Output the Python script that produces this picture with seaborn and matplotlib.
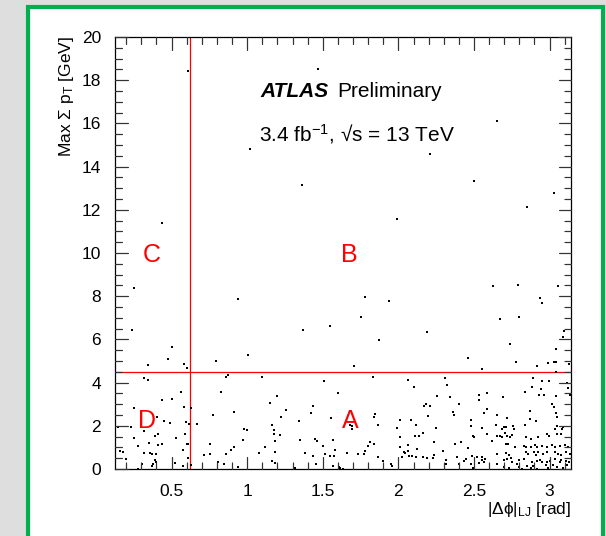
import matplotlib
matplotlib.use("Agg")
import numpy as np
import matplotlib.pyplot as plt
import seaborn as sns
from matplotlib.patches import Rectangle
from matplotlib.ticker import MultipleLocator, NullFormatter

# ---------------- data ----------------
dphi_upper = [0.606, 1.469, 2.653, 1.02, 2.209, 2.503, 1.363, 3.032, 2.851, 0.439, 1.988, 0.254, 2.629, 2.794,
              3.058, 0.94, 1.777, 1.94, 2.939, 2.95, 1.75, 2.675, 2.799, 0.24, 1.367, 1.548, 2.186, 1.874, 2.735,
              3.094, 3.089, 0.5, 3.043, 0.474, 0.341, 0.579, 0.599, 0.791, 1.004, 1.707, 2.46, 2.55, 2.779, 2.92,
              2.99, 3.032, 3.041, 3.13, 3.045]
sumpt_upper = [18.43, 18.53, 16.09, 14.81, 14.6, 13.32, 13.16, 12.78, 12.15, 11.41, 11.58, 8.37, 8.48, 8.54,
               8.45, 7.88, 7.94, 7.78, 7.91, 7.67, 7.06, 6.96, 7.04, 6.45, 6.43, 6.64, 6.33, 5.99, 5.77,
               6.39, 6.11, 5.64, 5.57, 5.07, 4.80, 4.88, 4.68, 4.99, 5.26, 4.76, 5.16, 4.65, 4.96, 4.79,
               4.92, 4.97, 4.95, 4.84, 4.50]

dphi_low1 = [0.319, 0.341, 0.559, 0.434, 0.504, 0.251, 0.579, 0.63, 0.406, 0.452, 0.489, 0.597, 0.612, 0.67,
             0.148, 0.23, 0.319, 0.41, 0.39, 0.251, 0.531, 0.59, 0.353, 0.439, 0.412, 0.6, 0.608, 0.28, 0.156,
             0.176, 0.319, 0.359, 0.372, 0.40, 0.577, 0.716, 0.2, 0.39, 0.399, 0.608, 0.379, 0.372, 0.63, 0.302,
             0.28, 0.52, 0.575]
sumpt_low1 = [4.22, 4.11, 3.57, 3.21, 3.26, 2.81, 2.87, 2.84, 2.42, 2.2, 2.12, 2.17, 2.09, 2.08,
              1.94, 1.95, 1.74, 1.61, 1.55, 1.43, 1.43, 1.6, 1.21, 1.16, 1.10, 1.15, 1.15, 1.07, 0.82,
              0.78, 0.74, 0.76, 0.70, 0.71, 0.87, 0.65, 0.47, 0.42, 0.34, 0.51, 0.23, 0.15, 0.2, 0.23,
              0.02, 0.3, 0.12]

dphi_low2 = [0.859, 0.874, 1.101, 0.824, 1.198, 1.152, 1.255, 0.773, 0.914, 1.222, 1.341, 1.167, 0.976, 1.0,
             1.174, 1.178, 1.218, 0.974, 1.182, 1.347, 0.753, 0.914, 1.119, 0.894, 1.081, 0.756, 0.861, 1.187,
             0.81, 0.845, 1.165, 1.187, 0.938, 1.317]
sumpt_low2 = [4.25, 4.33, 4.25, 3.57, 3.38, 3.06, 2.74, 2.48, 2.62, 2.42, 2.2, 2.02, 1.83, 1.8,
              1.8, 1.63, 1.57, 1.33, 1.3, 1.36, 1.16, 1.04, 1.01, 0.87, 0.76, 0.71, 0.68, 0.81,
              0.31, 0.22, 0.37, 0.28, 0.11, 0.05]

dphi_low3 = [1.509, 1.83, 1.603, 1.436, 1.42, 1.557, 1.845, 1.841, 1.68, 1.69, 1.69, 1.867, 1.99, 1.447,
             1.464, 1.565, 1.5, 1.81, 1.836, 1.801, 1.779, 1.581, 1.385, 1.517, 1.548, 1.577, 1.658, 1.733,
             1.77, 1.433, 1.863, 1.456, 1.896, 1.565, 1.605, 1.636, 1.614, 1.953, 1.955]
sumpt_low3 = [4.09, 4.27, 3.53, 2.93, 2.6, 2.34, 2.54, 2.42, 2.06, 2.0, 1.83, 2.02, 1.92, 1.41,
              1.29, 1.36, 1.05, 1.26, 1.18, 1.05, 0.84, 0.87, 0.73, 0.68, 0.62, 0.62, 0.76, 0.68,
              0.7, 0.62, 0.57, 0.25, 0.37, 0.14, 0.09, 0.01, 0.06, 0.23, 0.15]

dphi_low4 = [2.063, 2.305, 2.321, 2.103, 2.255, 2.341, 2.534, 2.589, 2.532, 2.167, 2.184, 2.206, 2.404, 2.358,
             2.369, 2.587, 2.563, 2.193, 2.008, 2.083, 2.483, 2.116, 2.25, 2.483, 2.556, 2.162, 2.112, 2.136,
             2.493, 2.497, 2.013, 2.233, 2.376, 2.413, 2.061, 2.46, 2.008, 2.121, 2.297, 2.034, 2.063, 2.041,
             2.237, 2.024, 2.068, 2.088, 2.114, 2.162, 2.191, 2.226, 2.389, 2.448, 2.49, 2.523, 2.556, 2.572,
             2.55, 2.318, 2.433, 2.316, 2.398, 2.48, 2.534, 2.567, 2.495]
sumpt_low4 = [4.14, 4.19, 3.88, 3.8, 3.4, 3.32, 3.43, 3.5, 3.2, 2.9, 2.99, 2.9, 2.99, 2.64,
              2.48, 2.8, 2.59, 2.47, 2.26, 2.26, 2.29, 2.03, 1.91, 1.97, 1.92, 1.67, 1.52, 1.52,
              1.53, 1.49, 1.46, 1.27, 1.15, 1.27, 1.1, 0.99, 1.02, 0.92, 0.82, 0.81, 0.84, 0.73,
              0.65, 0.57, 0.6, 0.59, 0.54, 0.56, 0.51, 0.5, 0.54, 0.47, 0.6, 0.57, 0.54, 0.45,
              0.42, 0.43, 0.39, 0.22, 0.22, 0.23, 0.28, 0.31, 0.03]

dphi_low5 = [2.893, 2.952, 2.999, 2.882, 2.946, 3.114, 3.124, 3.135, 2.693, 2.836, 2.933, 2.966, 3.043, 3.019,
             3.03, 3.041, 3.048, 2.649, 2.717, 2.869, 2.873, 2.909, 2.836, 2.645, 2.698, 2.711, 2.688, 2.761,
             2.766, 3.036, 3.052, 3.091, 3.085, 2.585, 2.986, 2.997, 3.048, 3.078, 2.649, 2.673, 2.688, 2.702,
             2.717, 2.737, 2.754, 2.622, 2.847, 2.876, 2.924, 2.832, 2.845, 2.878, 2.902, 2.92, 2.711, 2.726,
             2.772, 2.952, 2.983, 3.019, 3.036, 3.069, 3.102, 3.124, 2.651, 2.715, 2.73, 2.843, 2.86, 2.898,
             2.911, 2.924, 2.959, 2.982, 3.038, 3.056, 3.078, 3.109, 3.135, 2.7, 2.719, 2.748, 2.752, 2.8,
             2.832, 2.886, 2.92, 2.937, 2.952, 2.982, 3.003, 3.036, 3.069, 3.078, 3.107, 3.127, 2.655, 2.7,
             2.733, 2.783, 2.8, 2.816, 2.853, 2.876, 2.893, 2.92, 2.975, 2.992, 3.025, 3.052, 3.089, 3.118]
sumpt_low5 = [4.22, 4.09, 4.06, 3.78, 3.72, 3.98, 3.75, 3.44, 3.35, 3.55, 3.44, 3.44, 3.38, 3.02,
              2.85, 2.59, 2.42, 2.51, 2.36, 2.67, 2.33, 2.23, 2.03, 2.05, 1.94, 1.94, 1.85, 2.0,
              1.86, 1.85, 1.99, 1.95, 1.85, 1.61, 1.6, 1.53, 1.61, 1.64, 1.53, 1.55, 1.46, 1.66,
              1.52, 1.46, 1.58, 1.3, 1.46, 1.38, 1.46, 1.07, 1.02, 1.02, 1.12, 1.02, 1.15, 1.15,
              1.01, 1.07, 1.04, 1.1, 1.01, 1.07, 1.1, 1.01, 0.71, 0.73, 0.65, 0.8, 0.71, 0.78,
              0.65, 0.78, 0.71, 0.78, 0.78, 0.68, 0.65, 0.78, 0.68, 0.4, 0.45, 0.5, 0.34, 0.42,
              0.47, 0.34, 0.39, 0.42, 0.34, 0.34, 0.39, 0.47, 0.34, 0.42, 0.39, 0.31, 0.22, 0.08,
              0.03, 0.22, 0.09, 0.01, 0.12, 0.03, 0.12, 0.0, 0.2, 0.03, 0.2, 0.09, 0.03, 0.2]

dphi = dphi_upper + dphi_low1 + dphi_low2 + dphi_low3 + dphi_low4 + dphi_low5
sumpt = sumpt_upper + sumpt_low1 + sumpt_low2 + sumpt_low3 + sumpt_low4 + sumpt_low5

dphi_cut = 0.62
sumpt_cut = 4.5
region_labels = ["C", "B", "D", "A"]
region_x = [0.371, 1.676, 0.34, 1.684]
region_y = [9.9, 9.9, 2.2, 2.22]

xticks = [0.5, 1, 1.5, 2, 2.5, 3]
xticklabels = ["0.5", "1", "1.5", "2", "2.5", "3"]
yticks = [0, 2, 4, 6, 8, 10, 12, 14, 16, 18, 20]

# ---------------- style ----------------
sns.set_theme(style="white")
rc = plt.rcParams
rc["font.family"] = ["Liberation Sans", "DejaVu Sans"]
rc["text.color"] = "black"
rc["axes.labelcolor"] = "black"
rc["mathtext.fontset"] = "custom"
rc["mathtext.rm"] = "Liberation Sans"
rc["mathtext.it"] = "Liberation Sans:italic"
rc["mathtext.bf"] = "Liberation Sans:bold"
rc["mathtext.sf"] = "Liberation Sans"
rc["mathtext.fallback"] = "stixsans"

W, H = 606, 536
RECT = [115 / W, 1 - 469 / H, 456 / W, 432 / H]
XLIM = (0.1257, 3.1416)
YLIM = (0, 20)

fig = plt.figure(figsize=(W / 100, H / 100), dpi=100)
fig.patch.set_facecolor("#dedede")
frame = Rectangle((28 / W, -0.05), (603 - 28) / W, 1 - 7 / H + 0.05,
                  transform=fig.transFigure, facecolor="white", edgecolor="#00b04f",
                  linewidth=3.0, zorder=-10)
fig.add_artist(frame)

ax = fig.add_axes(RECT)
ax.set_zorder(5)

sns.scatterplot(x=dphi, y=sumpt, ax=ax, marker="s", s=3.5, color="black",
                linewidth=0, zorder=3)

ax.axvline(dphi_cut, color="red", lw=0.9, zorder=2)
ax.axhline(sumpt_cut, color="red", lw=0.9, zorder=2)

for lab, xx, yy in zip(region_labels, region_x, region_y):
    ax.text(xx, yy, lab, color="red", fontsize=18, ha="center", va="center")

ax.set_xlim(*XLIM)
ax.set_ylim(*YLIM)
ax.set_xticks(xticks)
ax.set_xticklabels(xticklabels)
ax.set_yticks(yticks)
ax.set_yticklabels([str(v) for v in yticks])
ax.tick_params(which="both", length=0, labelsize=12.5, labelcolor="black")
ax.tick_params(axis="x", pad=11)
ax.tick_params(axis="y", pad=10)
for sp in ax.spines.values():
    sp.set_color("black")
    sp.set_linewidth(0.9)
ax.set_xlabel("")
ax.set_ylabel("")

# transparent overlay axes carrying the ROOT-style tick marks (inward, mirrored)
tax = fig.add_axes(RECT, sharex=None)
tax.set_zorder(20)
tax.patch.set_alpha(0.0)
tax.set_facecolor("none")
tax.set_xlim(*XLIM)
tax.set_ylim(*YLIM)
tax.set_xticks(xticks)
tax.set_yticks(yticks)
tax.xaxis.set_minor_locator(MultipleLocator(0.1))
tax.yaxis.set_minor_locator(MultipleLocator(0.5))
tax.xaxis.set_major_formatter(NullFormatter())
tax.yaxis.set_major_formatter(NullFormatter())
tax.tick_params(which="both", direction="in", bottom=True, top=True, left=True, right=True,
                labelbottom=False, labelleft=False, color="#333333", width=0.8)
tax.tick_params(which="major", length=9)
tax.tick_params(which="minor", length=4.7)
for sp in tax.spines.values():
    sp.set_visible(False)

# extra safety: explicit tick segments on the main axes
tick_col = "#333333"
xmaj_len, xmin_len = 12.5 / 432, 6.5 / 432
ymaj_len, ymin_len = 12.5 / 456, 6.5 / 456
x_minor = [v for v in np.round(np.arange(0.2, 3.15, 0.1), 2) if not any(abs(v - m) < 1e-6 for m in xticks)]
y_minor = [v for v in np.arange(0.5, 20, 0.5) if v % 2 != 0]
xt = ax.get_xaxis_transform()
yt = ax.get_yaxis_transform()
for xs, ln in ((xticks, xmaj_len), (x_minor, xmin_len)):
    for v in xs:
        ax.plot([v, v], [0, ln], transform=xt, color=tick_col, lw=0.8, clip_on=False, zorder=6)
        ax.plot([v, v], [1 - ln, 1], transform=xt, color=tick_col, lw=0.8, clip_on=False, zorder=6)
for ys, ln in ((yticks, ymaj_len), (y_minor, ymin_len)):
    for v in ys:
        ax.plot([0, ln], [v, v], transform=yt, color=tick_col, lw=0.8, clip_on=False, zorder=6)
        ax.plot([1 - ln, 1], [v, v], transform=yt, color=tick_col, lw=0.8, clip_on=False, zorder=6)

fig.text(67 / W, 1 - 36 / H, r"Max $\Sigma$ p$_{\mathrm{T}}$ [GeV]", rotation=90,
         ha="center", va="top", fontsize=12.5, color="black", zorder=6)
fig.text(571 / W, 1 - 514 / H, "|\u0394\u03d5|$_{\\mathrm{LJ}}$ [rad]", ha="right",
         va="baseline", fontsize=12.5, color="black", zorder=6)

ax.text(0.319, 0.862, "ATLAS", transform=ax.transAxes, fontsize=15, fontweight="bold",
        fontstyle="italic", ha="left", va="baseline")
ax.text(0.488, 0.862, "Preliminary", transform=ax.transAxes, fontsize=15,
        ha="left", va="baseline")
ax.text(0.315, 0.759, "3.4 fb$^{-1}$, \u221as = 13 TeV", transform=ax.transAxes,
        fontsize=15, ha="left", va="baseline")

fig.savefig("out.png", dpi=100, facecolor=fig.get_facecolor())
